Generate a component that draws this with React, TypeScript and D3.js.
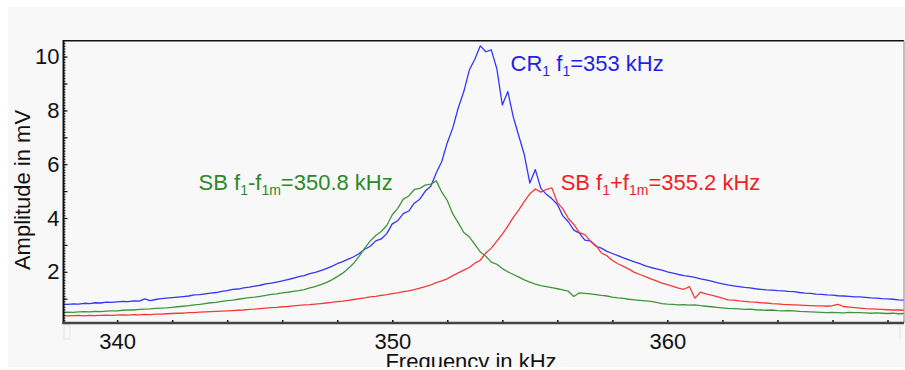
import React, { useEffect, useRef } from "react";
import * as d3 from "d3";

// sample grid, 0.2 kHz steps (5 per row = 1 kHz)
const freqKHz = [
  338.0, 338.2, 338.4, 338.6, 338.8, 339.0, 339.2, 339.4, 339.6, 339.8,
  340.0, 340.2, 340.4, 340.6, 340.8, 341.0, 341.2, 341.4, 341.6, 341.8,
  342.0, 342.2, 342.4, 342.6, 342.8, 343.0, 343.2, 343.4, 343.6, 343.8,
  344.0, 344.2, 344.4, 344.6, 344.8, 345.0, 345.2, 345.4, 345.6, 345.8,
  346.0, 346.2, 346.4, 346.6, 346.8, 347.0, 347.2, 347.4, 347.6, 347.8,
  348.0, 348.2, 348.4, 348.6, 348.8, 349.0, 349.2, 349.4, 349.6, 349.8,
  350.0, 350.2, 350.4, 350.6, 350.8, 351.0, 351.2, 351.4, 351.6, 351.8,
  352.0, 352.2, 352.4, 352.6, 352.8, 353.0, 353.2, 353.4, 353.6, 353.8,
  354.0, 354.2, 354.4, 354.6, 354.8, 355.0, 355.2, 355.4, 355.6, 355.8,
  356.0, 356.2, 356.4, 356.6, 356.8, 357.0, 357.2, 357.4, 357.6, 357.8,
  358.0, 358.2, 358.4, 358.6, 358.8, 359.0, 359.2, 359.4, 359.6, 359.8,
  360.0, 360.2, 360.4, 360.6, 360.8, 361.0, 361.2, 361.4, 361.6, 361.8,
  362.0, 362.2, 362.4, 362.6, 362.8, 363.0, 363.2, 363.4, 363.6, 363.8,
  364.0, 364.2, 364.4, 364.6, 364.8, 365.0, 365.2, 365.4, 365.6, 365.8,
  366.0, 366.2, 366.4, 366.6, 366.8, 367.0, 367.2, 367.4, 367.6, 367.8,
  368.0, 368.2, 368.4, 368.6, 368.8,
];

// CR1 f1=353 kHz (blue)
const crAmp = [
  0.80, 0.79, 0.81, 0.80, 0.83, 0.82, 0.85, 0.84, 0.87, 0.86,
  0.88, 0.90, 0.89, 0.92, 0.91, 0.99, 0.93, 0.97, 1.00, 1.02,
  1.04, 1.06, 1.08, 1.10, 1.14, 1.15, 1.18, 1.21, 1.23, 1.27,
  1.30, 1.35, 1.36, 1.40, 1.43, 1.47, 1.50, 1.55, 1.58, 1.62,
  1.66, 1.71, 1.76, 1.82, 1.86, 1.93, 1.98, 2.04, 2.12, 2.20,
  2.30, 2.38, 2.47, 2.56, 2.68, 2.84, 2.95, 3.15, 3.22, 3.42,
  3.78, 3.90, 4.16, 4.26, 4.55, 4.70, 5.00, 5.18, 5.68, 6.10,
  6.80, 7.35, 8.10, 8.70, 9.50, 9.90, 10.40, 10.18, 10.25, 9.55,
  8.20, 8.70, 7.75, 7.05, 6.35, 5.30, 5.80, 5.10, 4.88, 4.72,
  4.50, 4.08, 3.86, 3.55, 3.44, 3.18, 3.15, 2.95, 2.88, 2.76,
  2.68, 2.60, 2.52, 2.44, 2.37, 2.30, 2.22, 2.16, 2.11, 2.06,
  2.00, 1.95, 1.90, 1.86, 1.83, 1.79, 1.74, 1.70, 1.65, 1.60,
  1.55, 1.51, 1.48, 1.45, 1.42, 1.40, 1.37, 1.35, 1.33, 1.32,
  1.30, 1.29, 1.27, 1.26, 1.23, 1.21, 1.20, 1.17, 1.16, 1.14,
  1.13, 1.11, 1.10, 1.09, 1.07, 1.07, 1.05, 1.03, 1.02, 1.00,
  0.99, 0.98, 0.96, 0.95, 0.95,
];

// SB f1-f1m=350.8 kHz (green)
const sbLowAmp = [
  0.49, 0.50, 0.49, 0.51, 0.52, 0.51, 0.53, 0.52, 0.54, 0.55,
  0.55, 0.57, 0.58, 0.58, 0.60, 0.61, 0.62, 0.64, 0.65, 0.66,
  0.68, 0.70, 0.72, 0.74, 0.77, 0.79, 0.82, 0.85, 0.86, 0.90,
  0.93, 0.95, 0.98, 1.01, 1.04, 1.06, 1.09, 1.12, 1.16, 1.18,
  1.22, 1.24, 1.27, 1.30, 1.34, 1.40, 1.45, 1.52, 1.60, 1.70,
  1.82, 1.95, 2.12, 2.32, 2.58, 2.88, 3.15, 3.35, 3.50, 3.72,
  4.12, 4.36, 4.70, 4.82, 5.06, 5.10, 5.22, 5.26, 5.38, 4.96,
  4.65, 4.15, 3.82, 3.46, 3.30, 3.02, 2.74, 2.58, 2.36, 2.28,
  2.12, 2.00, 1.90, 1.80, 1.70, 1.62, 1.54, 1.49, 1.45, 1.41,
  1.37, 1.33, 1.28, 1.08, 1.22, 1.20, 1.18, 1.15, 1.12, 1.10,
  1.06, 1.03, 1.01, 0.98, 0.96, 0.94, 0.92, 0.90, 0.86, 0.82,
  0.80, 0.79, 0.77, 0.78, 0.76, 0.77, 0.74, 0.72, 0.70, 0.68,
  0.66, 0.64, 0.63, 0.62, 0.60, 0.61, 0.59, 0.58, 0.57, 0.58,
  0.56, 0.55, 0.56, 0.55, 0.53, 0.52, 0.51, 0.50, 0.49, 0.48,
  0.49, 0.48, 0.47, 0.49, 0.48, 0.48, 0.47, 0.46, 0.47, 0.46,
  0.45, 0.46, 0.44, 0.45, 0.45,
];

// SB f1+f1m=355.2 kHz (red)
const sbHighAmp = [
  0.38, 0.36, 0.37, 0.38, 0.36, 0.38, 0.37, 0.38, 0.39, 0.38,
  0.39, 0.40, 0.39, 0.41, 0.40, 0.42, 0.41, 0.43, 0.43, 0.44,
  0.45, 0.46, 0.46, 0.48, 0.48, 0.50, 0.51, 0.52, 0.53, 0.54,
  0.55, 0.56, 0.57, 0.58, 0.60, 0.61, 0.63, 0.65, 0.67, 0.68,
  0.70, 0.71, 0.73, 0.75, 0.77, 0.78, 0.80, 0.82, 0.84, 0.86,
  0.89, 0.91, 0.94, 0.97, 1.00, 1.03, 1.07, 1.09, 1.12, 1.15,
  1.19, 1.22, 1.26, 1.29, 1.34, 1.39, 1.45, 1.51, 1.60, 1.66,
  1.74, 1.86, 1.96, 2.06, 2.16, 2.32, 2.43, 2.70, 2.88, 3.14,
  3.40, 3.70, 4.02, 4.30, 4.62, 4.90, 5.08, 4.96, 5.06, 5.12,
  4.58, 4.34, 3.98, 3.76, 3.46, 3.38, 3.14, 2.98, 2.70, 2.60,
  2.42, 2.30, 2.20, 2.10, 1.98, 1.90, 1.82, 1.74, 1.66, 1.58,
  1.52, 1.46, 1.39, 1.35, 1.45, 1.02, 1.24, 1.18, 1.13, 1.08,
  1.02, 0.96, 0.95, 0.92, 0.90, 0.88, 0.87, 0.85, 0.84, 0.82,
  0.81, 0.79, 0.78, 0.77, 0.76, 0.75, 0.74, 0.73, 0.73, 0.72,
  0.74, 0.79, 0.71, 0.69, 0.67, 0.65, 0.63, 0.62, 0.61, 0.60,
  0.59, 0.58, 0.58, 0.57, 0.57,
];

const xTicks = [340, 350, 360];
const yTicks = [2, 4, 6, 8, 10];

const seriesColors = ["#3535f7", "#3d963d", "#f23a3a"];
const labelColors = ["#1f1fe8", "#2a8a2a", "#f01f1f"];

// label parts: [text, isSubscript]
const labels: { at: [number, number]; parts: [string, boolean][] }[] = [
  { at: [354.3, 9.46], parts: [["CR", false], ["1", true], [" f", false], ["1", true], ["=353 kHz", false]] },
  { at: [342.96, 5.04], parts: [["SB f", false], ["1", true], ["-f", false], ["1m", true], ["=350.8 kHz", false]] },
  { at: [356.12, 5.04], parts: [["SB f", false], ["1", true], ["+f", false], ["1m", true], ["=355.2 kHz", false]] },
];

const W = 905;
const H = 370;
const FONT = "'Liberation Sans', Arial, sans-serif";

export default function App() {
  const ref = useRef<SVGSVGElement>(null);

  useEffect(() => {
    const svg = d3.select(ref.current);
    svg.selectAll("*").remove();

    const left = 63.5, right = 904, top = 40.7, bottom = 323;

    const x = d3.scaleLinear().domain([338.05, 368.6]).range([left, right]);
    const y = d3.scaleLinear().domain([0, 10]).range([325.6, 56.6]);

    // panel background
    svg.append("rect").attr("x", 8).attr("y", 7).attr("width", W - 8).attr("height", 360).attr("fill", "#f8f8f8");

    const defs = svg.append("defs");
    defs.append("clipPath").attr("id", "plotclip").append("rect")
      .attr("x", left).attr("y", top).attr("width", right - left).attr("height", bottom - top);
    defs.append("clipPath").attr("id", "panelclip").append("rect")
      .attr("x", 8).attr("y", 7).attr("width", W - 8).attr("height", 360);

    // faint marks under axis ends
    svg.append("rect").attr("x", 64).attr("y", 325).attr("width", 6).attr("height", 14).attr("fill", "none").attr("stroke", "#e4e4e4");
    svg.append("line").attr("x1", 900).attr("x2", 900).attr("y1", 325).attr("y2", 339).attr("stroke", "#e0e0e0");

    const series = [crAmp, sbLowAmp, sbHighAmp];
    const line = d3.line<number>().x((d, i) => x(freqKHz[i])).y(d => y(d));

    const plot = svg.append("g").attr("clip-path", "url(#plotclip)");
    plot.selectAll("path").data(series).join("path")
      .attr("d", d => line(d))
      .attr("fill", "none")
      .attr("stroke", (d, i) => seriesColors[i])
      .attr("stroke-width", 1.3)
      .attr("stroke-linejoin", "round");

    // frame
    svg.append("line").attr("x1", left).attr("x2", right).attr("y1", top).attr("y2", top).attr("stroke", "#111").attr("stroke-width", 1.5);
    svg.append("line").attr("x1", right).attr("x2", right).attr("y1", top).attr("y2", bottom).attr("stroke", "#999").attr("stroke-width", 1.2);

    // y axis
    const yMinor = svg.append("g").attr("transform", `translate(${left},0)`)
      .call(d3.axisLeft(y).tickValues(d3.range(0.2, 10.6, 0.1)).tickSizeInner(-2).tickSizeOuter(0).tickFormat(() => ""));
    yMinor.select(".domain").remove();
    yMinor.selectAll("line").attr("stroke", "#222");
    const yMajor = svg.append("g").attr("transform", `translate(${left},0)`)
      .call(d3.axisLeft(y).tickValues(d3.range(1, 11)).tickSizeInner(-4).tickSizeOuter(0).tickPadding(4)
        .tickFormat(d => (yTicks.includes(+d) ? String(d) : "")));
    yMajor.select(".domain").remove();
    yMajor.selectAll("line").attr("stroke", "#111").attr("stroke-width", 1.2);
    yMajor.selectAll("text").attr("font-family", FONT).attr("font-size", 22).attr("fill", "#111");

    // x axis
    const xAx = svg.append("g").attr("transform", `translate(0,${bottom})`)
      .call(d3.axisBottom(x).tickValues(d3.range(340, 369, 2)).tickSizeInner(-3).tickSizeOuter(0).tickPadding(10)
        .tickFormat(d => (xTicks.includes(+d) ? String(d) : "")));
    xAx.select(".domain").remove();
    xAx.selectAll("line").attr("stroke", "#111").attr("stroke-width", 1.5);
    xAx.selectAll("text").attr("font-family", FONT).attr("font-size", 22).attr("fill", "#111");

    svg.append("line").attr("x1", left).attr("x2", left).attr("y1", top - 0.7).attr("y2", bottom + 1).attr("stroke", "#111").attr("stroke-width", 2);
    svg.append("line").attr("x1", left - 1).attr("x2", right).attr("y1", bottom).attr("y2", bottom).attr("stroke", "#444").attr("stroke-width", 2.5);

    // axis titles
    svg.append("text").attr("clip-path", "url(#panelclip)")
      .attr("x", 471).attr("y", 369).attr("text-anchor", "middle")
      .attr("font-family", FONT).attr("font-size", 22).attr("fill", "#111")
      .text("Frequency in kHz");
    svg.append("text")
      .attr("transform", "translate(30,190) rotate(-90)").attr("text-anchor", "middle")
      .attr("font-family", FONT).attr("font-size", 22).attr("fill", "#111")
      .text("Amplitude in mV");

    // curve annotations
    labels.forEach((lb, i) => {
      const t = svg.append("text")
        .attr("x", x(lb.at[0])).attr("y", y(lb.at[1]))
        .attr("font-family", FONT).attr("font-size", 22).attr("fill", labelColors[i]);
      let down = false;
      lb.parts.forEach(([s, sub]) => {
        const ts = t.append("tspan").text(s);
        if (sub) {
          ts.attr("font-size", 14).attr("dy", down ? 0 : 5);
          down = true;
        } else {
          ts.attr("dy", down ? -5 : 0);
          down = false;
        }
      });
    });
  }, []);

  return <svg ref={ref} width={W} height={H} style={{ position: "absolute", left: 0, top: 0 }} />;
}
